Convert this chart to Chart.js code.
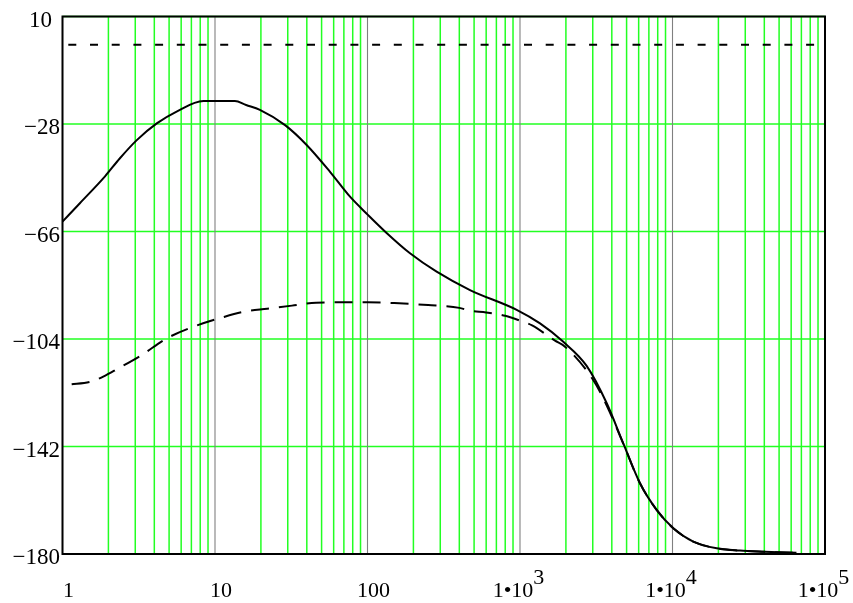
<!DOCTYPE html>
<html>
<head>
<meta charset="utf-8">
<script src="https://cdn.jsdelivr.net/npm/chart.js@4/dist/chart.umd.min.js"></script>
<style>
  html, body { margin: 0; padding: 0; background: #fff; }
  canvas { display: block; }
</style>
</head>
<body>
<canvas id="plot" width="853" height="603"></canvas>
<script>
// frequency / magnitude
const solidX = [1, 1.3, 1.9, 2.38, 3.07, 4.15, 5.6, 8.4, 10, 13.5, 16, 19.7, 28.8, 39.9, 56.8, 76.8, 101, 134, 190, 284, 470, 951, 1353, 1923, 2735, 3705, 4756, 6120, 7870, 10120, 13680, 19500, 27600, 40000, 65000];
const solidY = [-62.5, -56, -46.5, -40.1, -33.7, -27.8, -23.6, -19.9, -19.9, -19.9, -21.3, -23.0, -28.4, -35.4, -44.9, -53.7, -60.2, -66.6, -73.7, -80.2, -86.7, -93.7, -98.5, -105, -113.5, -126.7, -140.9, -155, -164.4, -170.9, -175.6, -178, -178.8, -179.2, -179.6];

const dashX = [1, 1.15, 1.55, 1.85, 2.32, 3.3, 4.82, 7.2, 11.3, 16, 22, 32, 46, 100, 150, 250, 400, 470, 600, 800, 1000, 1200, 1697, 1972, 3020, 3705, 4756, 6120, 7870, 10120, 13680, 19500, 27600, 40000, 65000];
const dashY = [-120.3, -120, -119, -117.3, -114.4, -109.7, -103.8, -99.7, -96.3, -94.2, -93.3, -92.2, -91.2, -91.0, -91.3, -92.0, -93.0, -94.0, -94.6, -95.8, -97.5, -99.2, -104.6, -106.7, -118.5, -127.5, -141, -155, -164.4, -170.9, -175.6, -178, -178.8, -179.2, -179.6];

const refX = [1, 100000];
const refY = [0, 0];

const yTicks = [10, -28, -66, -104, -142, -180];
const yTickLabels = ['10', '\u221228', '\u221266', '\u2212104', '\u2212142', '\u2212180'];
const xDecades = [1, 10, 100, 1000, 10000, 100000];
const xTickBase = ['1', '10', '100', '1\u202210', '1\u202210', '1\u202210'];
const xTickExp = ['', '', '', '3', '4', '5'];

const GREEN = '#22ff22';
const DECADE = '#808080';
const SERIF = '"Liberation Serif", "Times New Roman", serif';

const toPts = (xs, ys) => xs.map((x, i) => ({ x, y: ys[i] }));

// mathcad style grid: green at 2..9 of each decade and on the y ticks, grey on decades
const mathcadGrid = {
  id: 'mathcadGrid',
  beforeDatasetsDraw(chart) {
    const { ctx, chartArea: a, scales: { x, y } } = chart;
    ctx.save();
    const vline = (v, col, w) => {
      const px = x.getPixelForValue(v);
      ctx.strokeStyle = col;
      ctx.lineWidth = w;
      ctx.beginPath(); ctx.moveTo(px, a.top); ctx.lineTo(px, a.bottom); ctx.stroke();
    };
    ctx.strokeStyle = GREEN;
    ctx.lineWidth = 1.5;
    yTicks.forEach(v => {
      const py = y.getPixelForValue(v);
      ctx.beginPath(); ctx.moveTo(a.left, py); ctx.lineTo(a.right, py); ctx.stroke();
    });
    xDecades.forEach((d, i) => {
      if (i < xDecades.length - 1) for (let k = 2; k <= 9; k++) vline(k * d, GREEN, 1.5);
    });
    xDecades.forEach(d => vline(d, DECADE, 1.1));
    ctx.restore();
  },
  afterDraw(chart) {
    const { ctx, chartArea: a, scales: { x, y } } = chart;
    ctx.save();
    ctx.strokeStyle = '#000';
    ctx.lineWidth = 2;
    ctx.strokeRect(a.left, a.top, a.right - a.left, a.bottom - a.top);

    ctx.fillStyle = '#000';
    ctx.font = '23px ' + SERIF;
    ctx.textAlign = 'right';
    ctx.textBaseline = 'middle';
    yTicks.forEach((v, i) => {
      const t = yTickLabels[i];
      const right = t.startsWith('\u2212') ? a.left - 2.5 : a.left - 10.5;
      ctx.fillText(t, right, y.getPixelForValue(v) + 4);
    });

    ctx.font = '22px ' + SERIF;
    ctx.textAlign = 'left';
    ctx.textBaseline = 'alphabetic';
    xDecades.forEach((v, i) => {
      const base = xTickBase[i], exp = xTickExp[i];
      const wb = ctx.measureText(base).width;
      const we = exp ? ctx.measureText(exp).width : 0;
      const cx = x.getPixelForValue(v) + (exp ? -1.5 : 6);
      const left = cx - (wb + we) / 2;
      ctx.fillText(base, left, 596.5);
      if (exp) ctx.fillText(exp, left + wb, 584);
    });
    ctx.restore();
  }
};

new Chart(document.getElementById('plot'), {
  type: 'scatter',
  data: {
    datasets: [
      { data: toPts(solidX, solidY), showLine: true, borderColor: '#000', borderWidth: 2,
        pointRadius: 0, cubicInterpolationMode: 'monotone' },
      { data: toPts(dashX, dashY), showLine: true, borderColor: '#000', borderWidth: 2,
        pointRadius: 0, cubicInterpolationMode: 'monotone', borderDash: [18, 10], borderDashOffset: 18.8 },
      { data: toPts(refX, refY), showLine: true, borderColor: '#000', borderWidth: 2,
        pointRadius: 0, borderDash: [8, 13.7], borderDashOffset: 15.9 }
    ]
  },
  options: {
    responsive: false,
    animation: false,
    layout: { padding: { left: 62.5, top: 16.5, right: 28, bottom: 49 } },
    plugins: { legend: { display: false }, tooltip: { enabled: false } },
    scales: {
      x: {
        type: 'logarithmic', min: 1, max: 100000,
        ticks: { display: false },
        grid: { display: false, drawTicks: false },
        border: { display: false }
      },
      y: {
        min: -180, max: 10,
        ticks: { display: false },
        grid: { display: false, drawTicks: false },
        border: { display: false }
      }
    }
  },
  plugins: [mathcadGrid]
});
</script>
</body>
</html>
